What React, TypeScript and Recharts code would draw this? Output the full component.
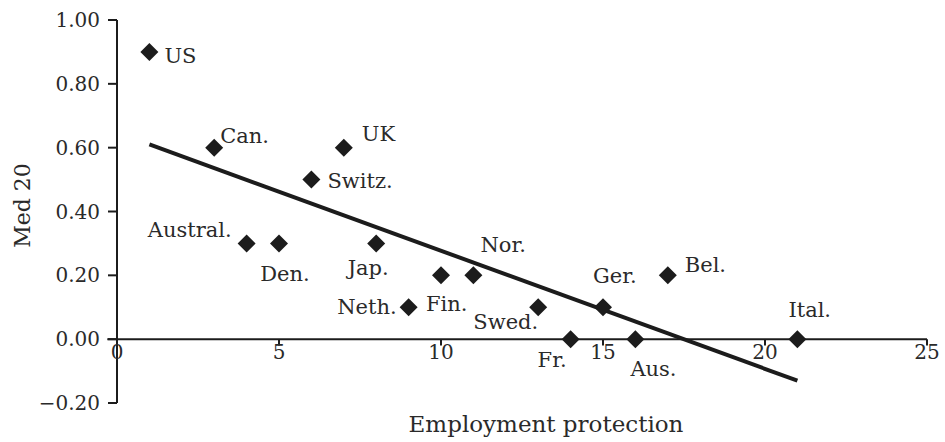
import { ComposedChart, Scatter, XAxis, YAxis, ReferenceLine, ReferenceDot } from 'recharts';

const countries = ['US', 'Can.', 'UK', 'Switz.', 'Austral.', 'Den.', 'Jap.', 'Neth.', 'Fin.', 'Nor.', 'Swed.', 'Fr.', 'Ger.', 'Aus.', 'Bel.', 'Ital.'];
const protection = [1, 3, 7, 6, 4, 5, 8, 9, 10, 11, 13, 14, 15, 16, 17, 21];
const med20 = [0.9, 0.6, 0.6, 0.5, 0.3, 0.3, 0.3, 0.1, 0.2, 0.2, 0.1, 0, 0.1, 0, 0.2, 0];

// fitted line at both ends
const trendX = [1, 21];
const trendY = [0.61, -0.13];

const xTicks = [0, 5, 10, 15, 20, 25];
const yTicks = [-0.2, 0, 0.2, 0.4, 0.6, 0.8, 1.0];

const FONT = '"DejaVu Serif", serif';
const INK = '#1c1c1c';
const TEXT = '#2a2a2a';

// where each country name sits relative to its marker
const LABEL_POS: Record<string, { dx: number; dy: number; anchor: 'start' | 'middle' | 'end' }> = {
  'US': { dx: 15, dy: 4, anchor: 'start' },
  'Can.': { dx: 6, dy: -12, anchor: 'start' },
  'UK': { dx: 18, dy: -14, anchor: 'start' },
  'Switz.': { dx: 16, dy: 1, anchor: 'start' },
  'Austral.': { dx: -15, dy: -13, anchor: 'end' },
  'Den.': { dx: 6, dy: 31, anchor: 'middle' },
  'Jap.': { dx: -8, dy: 25, anchor: 'middle' },
  'Neth.': { dx: -12, dy: 0, anchor: 'end' },
  'Fin.': { dx: -15, dy: 29, anchor: 'start' },
  'Nor.': { dx: 7, dy: -30, anchor: 'start' },
  'Swed.': { dx: 0, dy: 15, anchor: 'end' },
  'Fr.': { dx: -4, dy: 21, anchor: 'end' },
  'Ger.': { dx: -10, dy: -31, anchor: 'start' },
  'Aus.': { dx: -5, dy: 30, anchor: 'start' },
  'Bel.': { dx: 17, dy: -10, anchor: 'start' },
  'Ital.': { dx: -9, dy: -29, anchor: 'start' },
};

const points = countries.map((name, i) => ({ name, x: protection[i], y: med20[i] }));

const Diamond = (props: any) => {
  const { cx, cy, payload } = props;
  const pos = LABEL_POS[payload.name];
  const r = 9;
  return (
    <g>
      <polygon
        points={`${cx},${cy - r} ${cx + r},${cy} ${cx},${cy + r} ${cx - r},${cy}`}
        fill={INK}
      />
      <text
        x={cx + pos.dx}
        y={cy + pos.dy}
        textAnchor={pos.anchor}
        dominantBaseline="central"
        fontFamily={FONT}
        fontSize={21}
        fill={TEXT}
      >
        {payload.name}
      </text>
    </g>
  );
};

const YTitle = (props: any) => {
  const { viewBox } = props;
  const cy = viewBox.y + viewBox.height / 2 - 6;
  const cx = 22;
  return (
    <text
      x={cx}
      y={cy}
      transform={`rotate(-90 ${cx} ${cy})`}
      textAnchor="middle"
      dominantBaseline="central"
      fontFamily={FONT}
      fontSize={22}
      style={{ fill: TEXT, stroke: 'none' }}
    >
      Med 20
    </text>
  );
};

const XTitle = (props: any) => {
  const { viewBox } = props;
  const cx = viewBox.x + viewBox.width / 2 + 24;
  return (
    <text
      x={cx}
      y={424}
      textAnchor="middle"
      dominantBaseline="central"
      fontFamily={FONT}
      fontSize={23}
      style={{ fill: TEXT, stroke: 'none' }}
    >
      Employment protection
    </text>
  );
};

export default function App() {
  return (
    <div style={{ position: 'fixed', top: 0, left: 0, width: 945, height: 442, background: '#fff' }}>
      <ComposedChart
        width={945}
        height={442}
        margin={{ top: 20, right: 18, left: 0, bottom: 0 }}
      >
        <XAxis
          type="number"
          dataKey="x"
          domain={[0, 25]}
          ticks={xTicks}
          tick={false}
          tickLine={false}
          axisLine={false}
          height={39}
          label={<XTitle />}
        />
        <YAxis
          type="number"
          dataKey="y"
          domain={[-0.2, 1]}
          ticks={yTicks}
          width={117}
          tickSize={9}
          tickMargin={8}
          tickFormatter={(v: number) => v.toFixed(2).replace('-', '\u2212')}
          stroke={INK}
          strokeWidth={2}
          tick={{ fontFamily: FONT, fontSize: 20, fill: TEXT }}
          label={<YTitle />}
        />
        <ReferenceLine
          segment={[{ x: -0.3, y: 0 }, { x: 25, y: 0 }]}
          stroke={INK}
          strokeWidth={2}
          ifOverflow="visible"
        />
        {xTicks.filter((t) => t > 0).map((t) => (
          <ReferenceLine
            key={`tick-${t}`}
            segment={[{ x: t, y: 0 }, { x: t, y: -0.02 }]}
            stroke={INK}
            strokeWidth={2}
            ifOverflow="visible"
          />
        ))}
        {xTicks.map((t) => (
          <ReferenceDot
            key={`lab-${t}`}
            x={t}
            y={0}
            r={0}
            fill="none"
            stroke="none"
            ifOverflow="visible"
            label={{
              value: String(t),
              position: 'bottom',
              offset: 6,
              fontFamily: FONT,
              fontSize: 20,
              fill: TEXT,
            }}
          />
        ))}
        <ReferenceLine
          segment={[{ x: trendX[0], y: trendY[0] }, { x: trendX[1], y: trendY[1] }]}
          stroke={INK}
          strokeWidth={4}
          ifOverflow="visible"
        />
        <Scatter data={points} shape={Diamond} isAnimationActive={false} />
      </ComposedChart>
    </div>
  );
}
